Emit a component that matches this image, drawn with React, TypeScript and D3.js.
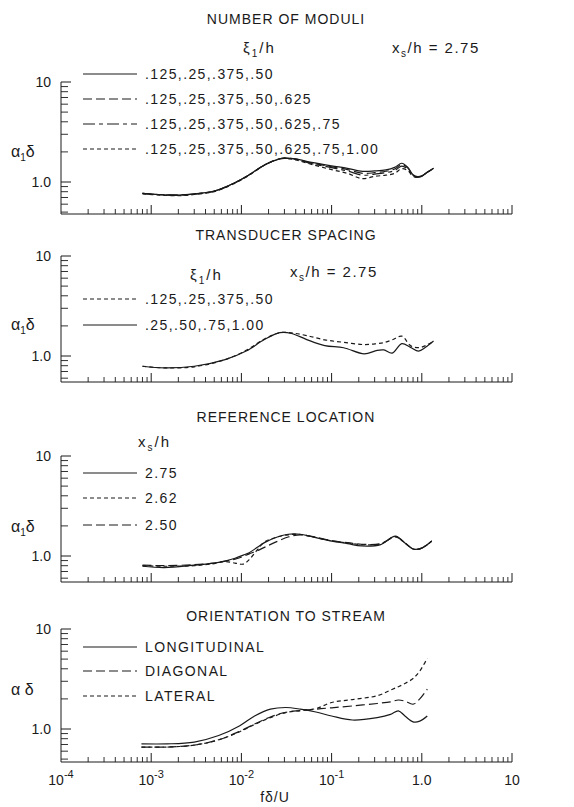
import * as d3 from 'd3'

// ---- data ----
// panel 1: number of moduli
const p1Freq = [8e-4, 1.2e-3, 2e-3, 3e-3, 5e-3, 8e-3, 0.012, 0.018, 0.025, 0.03, 0.04, 0.06, 0.1, 0.15, 0.22, 0.3, 0.4, 0.5, 0.6, 0.7, 0.8, 0.9, 1.0, 1.15, 1.35]
const p1Moduli4 = [0.77, 0.75, 0.74, 0.76, 0.81, 0.96, 1.17, 1.48, 1.68, 1.73, 1.70, 1.57, 1.45, 1.37, 1.28, 1.29, 1.32, 1.40, 1.54, 1.40, 1.18, 1.13, 1.15, 1.25, 1.37]
const p1Moduli5 = [0.77, 0.75, 0.74, 0.76, 0.81, 0.96, 1.17, 1.48, 1.68, 1.73, 1.69, 1.55, 1.42, 1.33, 1.22, 1.24, 1.28, 1.35, 1.50, 1.38, 1.17, 1.12, 1.15, 1.25, 1.37]
const p1Moduli6 = [0.77, 0.75, 0.74, 0.76, 0.81, 0.96, 1.17, 1.48, 1.68, 1.73, 1.68, 1.53, 1.39, 1.29, 1.17, 1.20, 1.24, 1.30, 1.44, 1.34, 1.15, 1.12, 1.15, 1.25, 1.37]
const p1Moduli7 = [0.76, 0.74, 0.73, 0.75, 0.80, 0.95, 1.16, 1.47, 1.67, 1.72, 1.66, 1.50, 1.33, 1.22, 1.08, 1.14, 1.17, 1.22, 1.36, 1.30, 1.14, 1.11, 1.14, 1.25, 1.37]
const p1Labels = ['.125,.25,.375,.50', '.125,.25,.375,.50,.625', '.125,.25,.375,.50,.625,.75', '.125,.25,.375,.50,.625,.75,1.00']

// panel 2: transducer spacing
const p2Freq = [8e-4, 1.4e-3, 3e-3, 6.6e-3, 0.0113, 0.018, 0.0267, 0.036, 0.053, 0.084, 0.136, 0.23, 0.32, 0.38, 0.47, 0.6, 0.75, 0.92, 1.1, 1.35]
const p2Close = [0.79, 0.76, 0.78, 0.92, 1.14, 1.48, 1.71, 1.70, 1.60, 1.45, 1.37, 1.30, 1.33, 1.36, 1.45, 1.58, 1.27, 1.21, 1.27, 1.41]
const p2Wide = [0.79, 0.76, 0.79, 0.92, 1.12, 1.46, 1.71, 1.68, 1.46, 1.27, 1.21, 1.05, 1.14, 1.15, 1.07, 1.33, 1.22, 1.12, 1.22, 1.41]
const p2Labels = ['.125,.25,.375,.50', '.25,.50,.75,1.00']

// panel 3: reference location
const p3Freq = [8e-4, 1.4e-3, 3e-3, 5e-3, 6.6e-3, 8.5e-3, 0.0105, 0.0122, 0.015, 0.018, 0.025, 0.033, 0.045, 0.06, 0.1, 0.15, 0.215, 0.35, 0.51, 0.65, 0.81, 1.0, 1.29]
const p3Ref275 = [0.79, 0.765, 0.81, 0.85, 0.89, 0.95, 1.02, 1.08, 1.22, 1.36, 1.55, 1.65, 1.65, 1.56, 1.41, 1.33, 1.26, 1.30, 1.58, 1.35, 1.17, 1.20, 1.41]
const p3Ref262 = [0.80, 0.79, 0.80, 0.84, 0.88, 0.85, 0.83, 0.92, 1.15, 1.38, 1.55, 1.63, 1.64, 1.56, 1.42, 1.35, 1.30, 1.32, 1.56, 1.35, 1.17, 1.20, 1.41]
const p3Ref250 = [0.81, 0.80, 0.82, 0.85, 0.89, 0.93, 0.99, 1.05, 1.13, 1.22, 1.40, 1.55, 1.63, 1.57, 1.43, 1.36, 1.31, 1.33, 1.55, 1.35, 1.17, 1.20, 1.41]
const p3Labels = ['2.75', '2.62', '2.50']

// panel 4: orientation to stream
const p4Freq = [7.8e-4, 1.5e-3, 3e-3, 5.6e-3, 9.6e-3, 0.014, 0.021, 0.031, 0.045, 0.067, 0.1, 0.17, 0.32, 0.45, 0.55, 0.65, 0.8, 0.95, 1.15]
const p4Longitudinal = [0.71, 0.71, 0.74, 0.86, 1.08, 1.35, 1.58, 1.64, 1.58, 1.48, 1.35, 1.23, 1.30, 1.40, 1.52, 1.35, 1.18, 1.20, 1.35]
const p4Diagonal = [0.66, 0.66, 0.69, 0.78, 0.95, 1.12, 1.32, 1.47, 1.53, 1.58, 1.63, 1.70, 1.80, 1.87, 1.95, 1.90, 1.77, 2.0, 2.5]
const p4Lateral = [0.66, 0.66, 0.69, 0.78, 0.94, 1.11, 1.30, 1.46, 1.53, 1.60, 1.84, 1.97, 2.15, 2.45, 2.65, 2.85, 3.2, 3.8, 5.1]
const p4Labels = ['LONGITUDINAL', 'DIAGONAL', 'LATERAL']

const xTickLabels = [['10', '-4'], ['10', '-3'], ['10', '-2'], ['10', '-1'], ['1.0', ''], ['10', '']]

const SOLID = 'none'
const LONG = '9,4'
const DASHDOT = '12,4,4,4'
const SHORT = '4,3'

const FONT = "'Liberation Sans', Arial, sans-serif"
const INK = '#1a1a1a'

const x = d3.scaleLog().domain([1e-4, 10]).range([61, 512])
const xMajor = [1e-4, 1e-3, 1e-2, 1e-1, 1, 10]
const xMinor = d3.range(-4, 1).flatMap(e => d3.range(2, 10).map(m => m * Math.pow(10, e)))

type Series = { freq: number[], values: number[], dash: string }

const Sub = ({ base, sub, rest }: any) => (
  <>
    <tspan>{base}</tspan><tspan fontSize={10} dy={4}>{sub}</tspan><tspan dy={-4}>{rest}</tspan>
  </>
)

const Panel = ({ top, bottom, title, titleY, series, legend, legendRows, yLabelY, subscript, showTicks, children }: any) => {
  const y = d3.scaleLog().domain([1, 10]).range([top + 100, top])
  const line = d3.line<[number, number]>()
    .x(d => x(d[0]))
    .y(d => y(d[1]))
    .curve(d3.curveCatmullRom.alpha(0.5))
  const yMinor = [0.5, 0.6, 0.7, 0.8, 0.9, 2, 3, 4, 5, 6, 7, 8, 9].filter(v => y(v) <= bottom + 0.5)
  const x0 = x(1e-4)
  const x1 = x(10)

  return (
    <g>
      <text x={286} y={titleY} textAnchor="middle" fontSize={14} letterSpacing={1}>{title}</text>
      {/* axes */}
      <line x1={x0} x2={x0} y1={y(10)} y2={bottom} stroke={INK} strokeWidth={1} />
      <line x1={x0} x2={x1} y1={bottom} y2={bottom} stroke={INK} strokeWidth={1} />
      {[1, 10].map(v => (
        <line key={'ym' + v} x1={x0} x2={x0 + 10} y1={y(v)} y2={y(v)} stroke={INK} />
      ))}
      {yMinor.map(v => (
        <line key={'yn' + v} x1={x0} x2={x0 + 7} y1={y(v)} y2={y(v)} stroke={INK} strokeWidth={0.9} />
      ))}
      <text x={51} y={y(10) + 5} textAnchor="end" fontSize={14}>10</text>
      <text x={51} y={y(1) + 5} textAnchor="end" fontSize={14}>1.0</text>
      {xMajor.slice(1).map(v => (
        <line key={'xm' + v} x1={x(v)} x2={x(v)} y1={bottom} y2={bottom - 9} stroke={INK} />
      ))}
      {xMinor.map(v => (
        <line key={'xn' + v} x1={x(v)} x2={x(v)} y1={bottom} y2={bottom - 5} stroke={INK} strokeWidth={0.9} />
      ))}
      {/* y axis label */}
      <text x={11} y={yLabelY} fontSize={16}>
        {subscript ? <Sub base="α" sub="1" rest="δ" /> : <tspan>α δ</tspan>}
      </text>
      {/* legend */}
      {legend.map((lab: string, i: number) => (
        <g key={'lg' + i}>
          <line x1={83} x2={137} y1={legendRows[i]} y2={legendRows[i]} stroke={INK} strokeWidth={1.1}
            strokeDasharray={series[i].dash} />
          <text x={145} y={legendRows[i] + 5} fontSize={14} letterSpacing={1.4}>{lab}</text>
        </g>
      ))}
      {/* curves */}
      {series.map((s: Series, i: number) => (
        <path key={'c' + i} d={line(s.freq.map((f, j) => [f, s.values[j]] as [number, number])) || ''}
          fill="none" stroke={INK} strokeWidth={1.2} strokeDasharray={s.dash} />
      ))}
      {showTicks && xMajor.map((v, i) => (
        <text key={'xl' + v} x={x(v)} y={bottom + 23} textAnchor="middle" fontSize={14}>
          <tspan>{xTickLabels[i][0]}</tspan>
          {xTickLabels[i][1] && <tspan fontSize={11} dy={-7}>{xTickLabels[i][1]}</tspan>}
        </text>
      ))}
      {children}
    </g>
  )
}

export default function App() {
  return (
    <svg width={574} height={807} style={{ position: 'absolute', left: 0, top: 0, background: '#fff' }}
      fontFamily={FONT} fill={INK}>
      <rect width={574} height={807} fill="#fff" />
      <Panel top={82} bottom={214} title="NUMBER OF MODULI" titleY={24} subscript yLabelY={157}
        legend={p1Labels} legendRows={[74, 99, 124, 149]}
        series={[
          { freq: p1Freq, values: p1Moduli4, dash: SOLID },
          { freq: p1Freq, values: p1Moduli5, dash: LONG },
          { freq: p1Freq, values: p1Moduli6, dash: DASHDOT },
          { freq: p1Freq, values: p1Moduli7, dash: SHORT },
        ]}>
        <text x={243} y={53} fontSize={15} letterSpacing={2}><Sub base="ξ" sub="1" rest="/h" /></text>
        <text x={392} y={53} fontSize={15} letterSpacing={1.5}><Sub base="x" sub="s" rest="/h = 2.75" /></text>
      </Panel>
      <Panel top={256} bottom={382} title="TRANSDUCER SPACING" titleY={240} subscript yLabelY={330}
        legend={p2Labels} legendRows={[299, 325]}
        series={[
          { freq: p2Freq, values: p2Close, dash: SHORT },
          { freq: p2Freq, values: p2Wide, dash: SOLID },
        ]}>
        <text x={190} y={280} fontSize={15} letterSpacing={2}><Sub base="ξ" sub="1" rest="/h" /></text>
        <text x={290} y={277} fontSize={15} letterSpacing={1.5}><Sub base="x" sub="s" rest="/h = 2.75" /></text>
      </Panel>
      <Panel top={456} bottom={582} title="REFERENCE LOCATION" titleY={422} subscript yLabelY={532}
        legend={p3Labels} legendRows={[473, 498, 525]}
        series={[
          { freq: p3Freq, values: p3Ref275, dash: SOLID },
          { freq: p3Freq, values: p3Ref262, dash: SHORT },
          { freq: p3Freq, values: p3Ref250, dash: LONG },
        ]}>
        <text x={138} y={447} fontSize={15} letterSpacing={2}><Sub base="x" sub="s" rest="/h" /></text>
      </Panel>
      <Panel top={629} bottom={762} title="ORIENTATION TO STREAM" titleY={621} yLabelY={695}
        legend={p4Labels} legendRows={[647, 671, 696]} showTicks
        series={[
          { freq: p4Freq, values: p4Longitudinal, dash: SOLID },
          { freq: p4Freq, values: p4Diagonal, dash: LONG },
          { freq: p4Freq, values: p4Lateral, dash: SHORT },
        ]}>
        <text x={275} y={802} textAnchor="middle" fontSize={14} letterSpacing={1}>fδ/U</text>
      </Panel>
    </svg>
  )
}
